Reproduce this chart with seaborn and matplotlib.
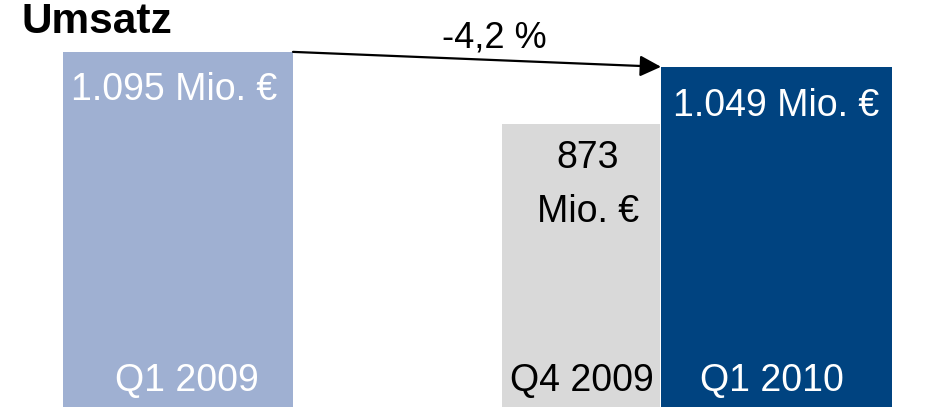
import matplotlib
matplotlib.use("Agg")
import matplotlib.pyplot as plt
import seaborn as sns

# data
quarters = ["Q1 2009", "Q4 2009", "Q1 2010"]
revenue = [1095, 873, 1049]  # Mio. €
value_labels = ["1.095 Mio. €", "873\nMio. €", "1.049 Mio. €"]
change_label = "-4,2 %"
title = "Umsatz"

# styles / layout (pixel units, figure is 946 x 407)
W, H = 946, 407
colors = ["#9FB0D2", "#D9D9D9", "#004380"]
text_colors = ["white", "black", "white"]
bar_left = [63, 502, 661]
bar_width = [230, 158, 231]
value_pos = [(174, 100), (588, 168), (776, 116)]   # centre x, baseline y of first line
line_step = 54
quarter_pos = [(187, 391), (582, 391), (772, 391)]


def px(x, y):
    return x / W, 1 - y / H


sns.set_style("white")
plt.rcParams["font.family"] = ["Liberation Sans", "DejaVu Sans"]

fig = plt.figure(figsize=(W / 100, H / 100), dpi=100)
ax = fig.add_axes([0, 0, 1, 1])

sns.barplot(x=quarters, y=revenue, hue=quarters, palette=colors,
            legend=False, saturation=1, ax=ax)

for bar, left, width in zip(ax.patches, bar_left, bar_width):
    bar.set_x(left)
    bar.set_width(width)
    bar.set_edgecolor("none")

ax.set_xlim(0, W)
ax.set_ylim(0, 1255)
ax.axis("off")

# change arrow from Q1 2009 to Q1 2010
ax.annotate("", xy=(bar_left[2], revenue[2]),
            xytext=(bar_left[0] + bar_width[0], revenue[0]),
            arrowprops=dict(arrowstyle="-|>,head_length=0.4,head_width=0.2",
                            mutation_scale=32, lw=1.6, color="black",
                            shrinkA=0, shrinkB=0))
fig.text(*px(494, 47), change_label, ha="center", va="baseline",
         fontsize=26, color="black")

fig.text(*px(21, 33), title, ha="left", va="baseline",
         fontsize=30.5, fontweight="bold", color="black")

for label, (cx, by), col in zip(value_labels, value_pos, text_colors):
    for k, line in enumerate(label.split("\n")):
        fig.text(*px(cx, by + k * line_step), line, ha="center",
                 va="baseline", fontsize=27, color=col)

for q, (cx, by), col in zip(quarters, quarter_pos, text_colors):
    fig.text(*px(cx, by), q, ha="center", va="baseline",
             fontsize=27, color=col)

fig.savefig("out.png", dpi=100)
